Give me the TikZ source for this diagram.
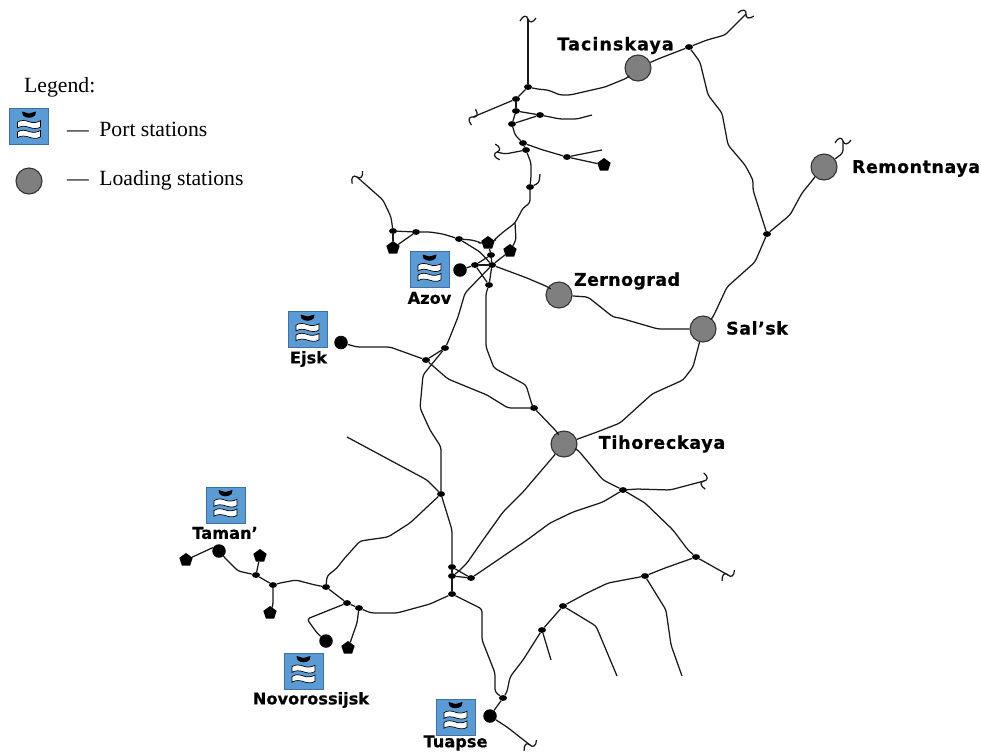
\documentclass[tikz,border=0pt]{standalone}
\usepackage{fontspec}
\usetikzlibrary{shapes.geometric}
\setmainfont{Liberation Serif}
\newfontfamily\lblfont{DejaVu Sans}[BoldFeatures={FakeBold=0.6}]
\definecolor{boxblue}{HTML}{5B9BD5}
\definecolor{boxedge}{HTML}{41719C}
\definecolor{loadgray}{HTML}{7F7F7F}
\newcommand{\lsp}[2]{{\addfontfeature{LetterSpace=#1}#2}}
\tikzset{
  rail/.style={draw=black!90,line width=1.25pt,rounded corners=3pt,line join=round},
  jn/.style={ellipse,fill=black,inner sep=0pt,minimum width=8pt,minimum height=5.8pt},
  pent/.style={regular polygon,regular polygon sides=5,fill=black,inner sep=0pt,minimum size=14pt},
  bigdot/.style={circle,fill=black,inner sep=0pt,minimum size=13.5pt},
  loadst/.style={circle,fill=loadgray,draw=black!80,line width=1.1pt,inner sep=0pt,minimum size=26pt},
  portbox/.style={rectangle,fill=boxblue,draw=boxedge,line width=0.9pt,inner sep=0pt,minimum width=39pt,minimum height=36pt},
  stlabel/.style={inner sep=0pt,font=\lblfont\bfseries\fontsize{17.5}{20}\selectfont},
  portlabel/.style={inner sep=0pt,font=\lblfont\bfseries\fontsize{16.2}{20}\selectfont},
  legtext/.style={inner sep=0pt,anchor=west,font=\fontsize{21.7}{25}\selectfont},
  waves/.pic={
    \fill[black] (-7,-15) -- (0,-13) -- (7,-15) -- (6,-11) .. controls (3,-8) and (-3,-8) .. (-6,-11) -- cycle;
    \foreach \dy in {-1.8,8}{
      \draw[fill=white,draw=black,line width=0.7pt,shift={(0,\dy)}]
        (-11.5,-2.5) .. controls (-8,-5) and (-4,-4.5) .. (0,-3) .. controls (4,-1.5) and (8,-2) .. (11.5,-4)
        -- (11.5,2.3) .. controls (8,4.6) and (4,4) .. (0,2.6) .. controls (-4,1.2) and (-8,1) .. (-11.5,3.2) -- cycle;
    }
  },
  sq/.pic={
    \draw[line width=1.25pt,black!90] (-8,2) .. controls (-5,-4) and (-1,-4) .. (0,0) .. controls (1,4) and (5,4) .. (8,-1);
  }
}
\begin{document}
\begin{tikzpicture}[x=1pt,y=-1pt]
\useasboundingbox (0,0) rectangle (981,753);

% legend
\node[legtext] (legend) at (24,87) {Legend:};
\node[portbox] (legport) at (29,126.5) {};
\pic at (legport) {waves};
\node[legtext] (legporttext) at (67,129.5) {—\hspace{10.5pt}Port stations};
\node[loadst] (legload) at (29,181) {};
\node[legtext] (legloadtext) at (67,180) {—\hspace{10.5pt}Loading stations};

% loading stations
\node[loadst] (T) at (638,68) {};
\node[loadst] (R) at (824,167) {};
\node[loadst] (Z) at (559,295) {};
\node[loadst] (S) at (703,329) {};
\node[loadst] (H) at (564,444) {};
\node[stlabel] (Tl) at (615.5,45.5) {\lsp{6}{Tacinskaya}};
\node[stlabel] (Rl) at (916,168.5) {\lsp{3}{Remontnaya}};
\node[stlabel] (Zl) at (627,281) {\lsp{2}{Zernograd}};
\node[stlabel] (Sl) at (757,328) {\lsp{3}{Sal’sk}};
\node[stlabel] (Hl) at (662,444) {\lsp{4}{Tihoreckaya}};

% port stations
\node[portbox] (azovb) at (429.5,269.5) {};
\node[portbox] (ejskb) at (307.5,329.5) {};
\node[portbox] (tamanb) at (225.5,505) {};
\node[portbox] (novob) at (303.5,671) {};
\node[portbox] (tuapb) at (455.5,717) {};
\foreach \b in {azovb,ejskb,tamanb,novob,tuapb}{\pic at (\b) {waves};}
\node[portlabel] (azovl) at (429.5,298) {Azov};
\node[portlabel] (ejskl) at (308.5,359) {Ejsk};
\node[portlabel] (tamanl) at (225,533) {Taman’};
\node[portlabel] (novol) at (311,700) {Novorossijsk};
\node[portlabel] (tuapl) at (455.5,743) {Tuapse};

% terminal dots
\node[bigdot] (cA) at (460,270) {};
\node[bigdot] (cE) at (341,342.5) {};
\node[bigdot] (cTa) at (219,551) {};
\node[bigdot] (cN) at (326,641) {};
\node[bigdot] (cTu) at (490,716) {};

% pentagons
\node[pent] (p1) at (604,165) {};
\node[pent] (p2) at (393,248) {};
\node[pent] (p3) at (488,243) {};
\node[pent] (p4) at (510,251) {};
\node[pent] (p5) at (186,560) {};
\node[pent] (p6) at (260,556) {};
\node[pent] (p7) at (270,613) {};
\node[pent] (p8) at (348,648) {};

% junctions
\foreach \n/\x/\y in {n1/528/87,n2/516/99,n3/516/111,n4/540/115,n5/512/124,n6/523/143,n7/526/150,n8/567/157,n9/530/187,
 n10/393/231,n11/416/232,n12/459/239,n13/491/255,n14/492/265,n15/475/265,n16/489/285,n17/445/348,n18/426/360,n19/441/494,
 n20/452/567,n21/452/576,n22/452/594,n23/326/587,n24/534/408,n25/767/234,n26/689/47,n27/471/578,n28/623/490,n29/696/557,
 n30/645/576,n31/563/606,n32/542/630,n33/503/698,n34/359/608,n35/347/603,n36/273/585,n37/256/575}
  {\node[jn] (\n) at (\x,\y) {};}

% free ends with squiggles
\coordinate (qA) at (528,19);
\coordinate (qB) at (473,117);
\coordinate (qC) at (497,152);
\coordinate (qD) at (357,177);
\coordinate (qE) at (746,14);
\coordinate (qF) at (843,141);
\coordinate (qG) at (704,481);
\coordinate (qH) at (728,575);
\coordinate (qI) at (530,745);
\pic at (qA) {sq};
\pic[rotate=65] at (qB) {sq};
\pic[rotate=95] at (qC) {sq};
\pic[rotate=40] at (qD) {sq};
\pic[rotate=-22] at (qE) {sq};
\pic at (qF) {sq};
\pic[rotate=85] at (qG) {sq};
\pic[rotate=30] at (qH) {sq};
\pic[rotate=30] at (qI) {sq};

% plain free ends
\coordinate (f1) at (592,115);
\coordinate (f2) at (602,150);
\coordinate (f3) at (540,174);
\coordinate (f4) at (347,437);
\coordinate (f5) at (682,676);
\coordinate (f6) at (617,676);
\coordinate (f7) at (551,660);

% north cluster
\draw[rail] (qA) -- (n1);
\draw[rail] (n1) -- (537,89) -- (548,90) -- (560,95) -- (570,95) -- (605,87) -- (627,78) -- (T);
\draw[rail] (n1) -- (n2);
\draw[rail] (n2) -- (n3);
\draw[rail] (n2) -- (qB);
\draw[rail] (n3) -- (n4);
\draw[rail] (n4) -- (560,119) -- (577,119) -- (f1);
\draw[rail] (n5) -- (n4);
\draw[rail] (n3) -- (n5);
\draw[rail] (n5) -- (515,135) -- (n6);
\draw[rail] (n6) -- (n7);
\draw[rail] (n6) -- (543,150) -- (n8);
\draw[rail] (n8) -- (p1);
\draw[rail] (n8) -- (f2);
\draw[rail] (n7) -- (505,154) -- (qC);
\draw[rail] (n7) -- (531,163) -- (531,177) -- (n9);
\draw[rail] (n9) -- (539,183) -- (f3);
\draw[rail] (n9) -- (530,203) -- (523,208) -- (515,223) -- (502,233) -- (493,241) -- (p3);
\draw[rail] (515,223) -- (516,240) -- (p4);

% Azov cluster
\draw[rail] (qD) -- (383,200) -- (391,217) -- (n10);
\draw[rail] (n10) -- (n11);
\draw[rail] (n10) -- (p2);
\draw[rail] (n11) -- (p2);
\draw[rail] (n11) -- (430,232) -- (443,234) -- (n12);
\draw[rail] (n12) -- (472,240) -- (482,243) -- (p3);
\draw[rail] (n12) -- (480,252) -- (n14);
\draw[rail] (p3) -- (n13);
\draw[rail] (n13) -- (n14);
\draw[rail] (n14) -- (n16);
\draw[rail] (n15) -- (n16);
\draw[rail] (n15) -- (n14);
\draw[rail] (n13) -- (n15);
\draw[rail] (cA) -- (n15);
\draw[rail] (p4) -- (n14);
\draw[rail] (n14) -- (465,293) -- (458,317) -- (448,342) -- (n17);
\draw[rail] (n14) -- (527,278) -- (548,287) -- (Z);
\draw[rail] (n16) -- (486,293) -- (486,347) -- (494,368) -- (526,385) -- (532,405) -- (n24);

% centre
\draw[rail] (n17) -- (n18);
\draw[rail] (n17) -- (423,375) -- (420,408) -- (430,430) -- (441,447) -- (n19);
\draw[rail] (cE) -- (357,347) -- (390,347) -- (n18);
\draw[rail] (n18) -- (448,379) -- (487,395) -- (508,408) -- (n24);
\draw[rail] (n24) -- (557,432) -- (H);
\draw[rail] (n19) -- (427,480) -- (f4);
\draw[rail] (n19) -- (452,530) -- (n20);
\draw[rail] (n20) -- (n21);
\draw[rail] (n21) -- (n22);
\draw[rail] (n20) -- (n27);
\draw[rail] (n21) -- (n27);
\draw[rail] (n19) -- (410,523) -- (388,537) -- (360,541) -- (343,560) -- (337,568) -- (327,576) -- (n23);

% east
\draw[rail] (Z) -- (588,297) -- (613,317) -- (620,318) -- (658,329) -- (S);
\draw[rail] (S) -- (713,317) -- (727,287) -- (755,262) -- (n25);
\draw[rail] (n25) -- (790,215) -- (802,193) -- (815,177) -- (R);
\draw[rail] (R) -- (843,153) -- (qF);
\draw[rail] (n25) -- (753,190) -- (753,180) -- (745,165) -- (728,145) -- (722,113) -- (708,95) -- (700,62) -- (n26);
\draw[rail] (n26) -- (658,59) -- (T);
\draw[rail] (n26) -- (707,40) -- (725,35) -- (qE);
\draw[rail] (S) -- (693,367) -- (683,380) -- (652,394) -- (620,423) -- (597,432) -- (H);

% from Tihoreckaya
\draw[rail] (H) -- (523,492) -- (503,512) -- (483,540) -- (467,563) -- (458,572) -- (n21);
\draw[rail] (n27) -- (483,570) -- (527,540) -- (550,523) -- (573,512) -- (603,502) -- (n28);
\draw[rail] (H) -- (578,450) -- (603,480) -- (n28);
\draw[rail] (n28) -- (637,489) -- (670,490) -- (qG);
\draw[rail] (n28) -- (645,503) -- (673,530) -- (688,550) -- (n29);
\draw[rail] (n29) -- (qH);
\draw[rail] (n29) -- (665,568) -- (n30);
\draw[rail] (n30) -- (608,583) -- (587,593) -- (n31);
\draw[rail] (n30) -- (666,610) -- (671,645) -- (f5);
\draw[rail] (n31) -- (596,626) -- (f6);
\draw[rail] (n31) -- (n32);
\draw[rail] (n32) -- (f7);
\draw[rail] (n32) -- (523,660) -- (510,677) -- (507,692) -- (n33);
\draw[rail] (n33) -- (cTu);
\draw[rail] (n22) -- (482,609) -- (482,640) -- (495,673) -- (495,692) -- (n33);
\draw[rail] (cTu) -- (507,727) -- (qI);

% south-west
\draw[rail] (n22) -- (430,604) -- (397,613) -- (371,613) -- (n34);
\draw[rail] (n34) -- (n35);
\draw[rail] (n35) -- (n23);
\draw[rail] (n23) -- (315,585) -- (296,580) -- (280,583) -- (n36);
\draw[rail] (n36) -- (n37);
\draw[rail] (n37) -- (238,571) -- (225,558) -- (cTa);
\draw[rail] (cTa.150) -- (p5);
\draw[rail] (n37) -- (p6);
\draw[rail] (n36) -- (273,605) -- (p7);
\draw[rail] (n35) -- (307,619) -- (317,633) -- (cN);
\draw[rail] (n34) -- (357,623) -- (350,643) -- (p8);
\end{tikzpicture}
\end{document}
